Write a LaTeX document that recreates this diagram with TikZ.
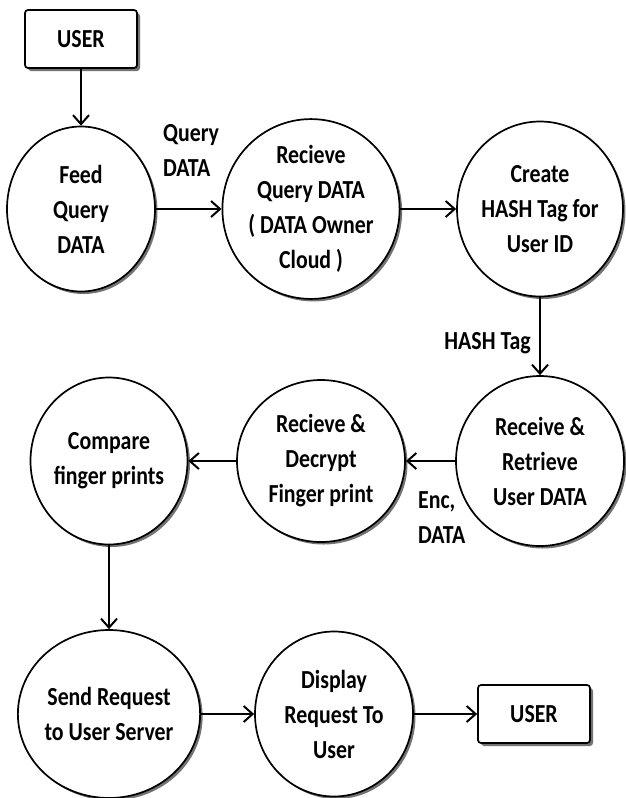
\documentclass[tikz,border=0pt]{standalone}
\usepackage{fontspec}
\setmainfont{Carlito}[FakeStretch=0.84]
\usetikzlibrary{shapes.geometric,shadows,arrows.meta}

\tikzset{
  txt/.style={font=\fontsize{26}{35}\selectfont\bfseries, align=center, inner sep=0pt},
  proc/.style={txt, ellipse, draw, line width=1.7pt, fill=white,
    drop shadow={shadow xshift=2.5pt, shadow yshift=-2.5pt, fill=black!55, opacity=1}},
  ent/.style={txt, rectangle, rounded corners=3pt, draw, line width=1.7pt, fill=white,
    minimum width=112pt, minimum height=58pt,
    drop shadow={shadow xshift=3pt, shadow yshift=-3pt, fill=black!55, opacity=1}},
  flow/.style={line width=1.4pt, -{Straight Barb[length=9pt,width=16pt,line width=2pt]}},
  lbl/.style={font=\fontsize{26}{35}\selectfont\bfseries, align=left, inner sep=0pt}
}

\begin{document}
\begin{tikzpicture}[x=1pt,y=-1pt]
  \useasboundingbox (0,0) rectangle (626,798);

  % external entities
  \node[ent] (userin) at (81,39) {USER};
  \node[ent] (userout) at (534,714) {USER};

  % processes, first row
  \node[proc, minimum width=148pt, minimum height=165pt] (feed) at (81,209) {Feed\\Query\\DATA};
  \node[proc, minimum width=176pt, minimum height=165pt] (recq) at (311,209) {Recieve\\Query DATA\\( DATA Owner\\Cloud )};
  \node[proc, minimum width=155pt, minimum height=175pt] (hash) at (540,209) {Create\\HASH Tag for\\User ID};

  % second row
  \node[proc, minimum width=168pt, minimum height=170pt] (retr) at (540,461) {Receive \&\\Retrieve\\User DATA};
  \node[proc, minimum width=168pt, minimum height=162pt] (decr) at (321,461) {Recieve \&\\Decrypt\\Finger print};
  \node[proc, minimum width=157pt, minimum height=167pt] (comp) at (109,461) {Compare\\finger prints};

  % third row
  \node[proc, minimum width=156pt, minimum height=168pt] (send) at (109,714) {Send Request\\to User Server};
  \node[proc, minimum width=158pt, minimum height=165pt] (disp) at (334,714) {Display\\Request To\\User};

  % data flows
  \draw[flow] (userin) -- (feed);
  \draw[flow] (feed) -- (recq);
  \draw[flow] (recq) -- (hash);
  \draw[flow] (hash) -- (retr);
  \draw[flow] (retr) -- (decr);
  \draw[flow] (decr) -- (comp);
  \draw[flow] (comp) -- (send);
  \draw[flow] (send) -- (disp);
  \draw[flow] (disp) -- (userout);

  % flow labels
  \node[lbl, anchor=west] (lq) at (163,150) {Query\\DATA};
  \node[lbl, anchor=east] (lh) at (531,343) {HASH Tag};
  \node[lbl, anchor=west] (le) at (418,518) {Enc,\\DATA};
\end{tikzpicture}
\end{document}
